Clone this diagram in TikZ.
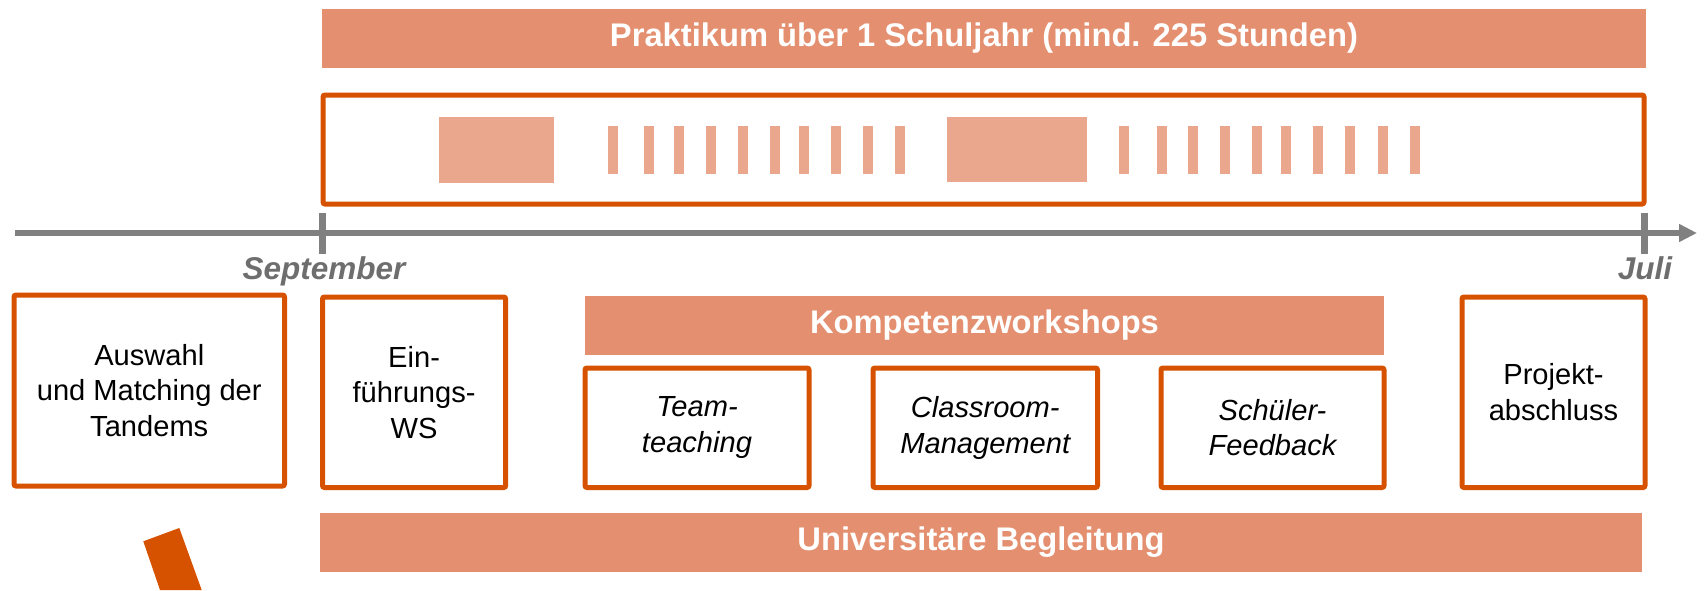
\documentclass[tikz,border=0pt]{standalone}
\usepackage{fontspec}
\setmainfont{Liberation Sans}
\usetikzlibrary{arrows.meta}
\definecolor{banner}{HTML}{E48F6F}
\definecolor{blockc}{HTML}{EAA78D}
\definecolor{ora}{HTML}{D65200}
\definecolor{axisgray}{HTML}{808080}
\definecolor{labelgray}{HTML}{6E6E6E}
\begin{document}
\begin{tikzpicture}[x=0.5pt,y=-0.5pt,
  bannerbox/.style={fill=banner, draw=none, inner sep=0pt, text=white,
    font=\fontsize{16.35pt}{19pt}\selectfont\bfseries},
  framebox/.style={draw=ora, line width=2.5pt, rounded corners=1pt, fill=white,
    inner sep=0pt, align=center, text=black,
    font=\fontsize{14.55pt}{17.75pt}\selectfont},
  itbox/.style={framebox, font=\fontsize{14.55pt}{17.75pt}\selectfont\itshape},
  blockfill/.style={fill=blockc, draw=none, inner sep=0pt},
  smallbar/.style={blockfill, minimum width=5pt, minimum height=24pt},
  axisline/.style={draw=axisgray, line width=2.75pt, -{Triangle[length=9pt,width=8.5pt]}},
  tickline/.style={draw=axisgray, line width=3.25pt},
  monthlabel/.style={text=labelgray, inner sep=0pt, anchor=base,
    font=\fontsize{15.75pt}{19pt}\selectfont\bfseries\itshape},
  diag/.style={fill=ora, draw=none}
]
\useasboundingbox (0,0) rectangle (1704,590);

% top banner
\node[bannerbox, minimum width=662pt, minimum height=29.5pt] (prak) at (984,38.5)
  {Praktikum über 1 Schuljahr (mind. 225 Stunden)};

% year frame
\node[framebox, minimum width=660.5pt, minimum height=54.5pt] (year) at (983.5,149.5) {};

% big blocks
\node[blockfill, minimum width=57.5pt, minimum height=32.75pt] (big1) at (496.5,149.75) {};
\node[blockfill, minimum width=70pt, minimum height=32.5pt] (big2) at (1017,149.5) {};

% small bars
\foreach \xx [count=\i] in {613,649,679,711,743,775,804,836,868,900}
  \node[smallbar] (bara\i) at (\xx,150) {};
\foreach \xx [count=\i] in {1124,1162,1193,1225,1257,1286,1318,1350,1383,1415}
  \node[smallbar] (barb\i) at (\xx,150) {};

% timeline
\coordinate (tlstart) at (15,233);
\coordinate (tlend) at (1697,233);
\draw[axisline] (tlstart) -- (tlend);
\coordinate (sep) at (322.6,233);
\coordinate (jul) at (1644.6,233);
\draw[tickline] ([yshift=10.25pt]sep) -- ([yshift=-10.25pt]sep);
\draw[tickline] ([yshift=10.25pt]jul) -- ([yshift=-10.25pt]jul);
\node[monthlabel] (septl) at (324,279) {September};
\node[monthlabel] (jull) at (1645,279) {Juli};

% boxes row
\node[framebox, minimum width=135.25pt, minimum height=95.5pt] (ausw) at (149.25,390.5)
  {Auswahl\\und Matching der\\Tandems};
\node[framebox, minimum width=91.6pt, minimum height=95.25pt] (einf) at (414.1,392.25)
  {Ein-\\führungs-\\WS};
\node[bannerbox, minimum width=399.5pt, minimum height=29.5pt] (komp) at (984.5,325.5)
  {Kompetenzworkshops};
\node[itbox, minimum width=112pt, minimum height=59.75pt] (team) at (697,427.75)
  {Team-\\teaching};
\node[itbox, minimum width=112.25pt, minimum height=59.75pt] (class) at (985.25,427.75)
  {Classroom-\\Management};
\node[itbox, minimum width=111.5pt, minimum height=59.75pt] (schue) at (1272.5,427.75)
  {Schüler-\\Feedback};
\node[framebox, minimum width=91.5pt, minimum height=95.25pt] (proj) at (1553.5,392.25)
  {Projekt-\\abschluss};

% bottom banner
\node[bannerbox, minimum width=661pt, minimum height=29.5pt] (uni) at (981,542.5)
  {Universitäre Begleitung};

% diagonal bar
\fill[diag] (143.3,541.3) -- (179.3,528) -- (201.7,590) -- (160,590) -- cycle;
\end{tikzpicture}
\end{document}
